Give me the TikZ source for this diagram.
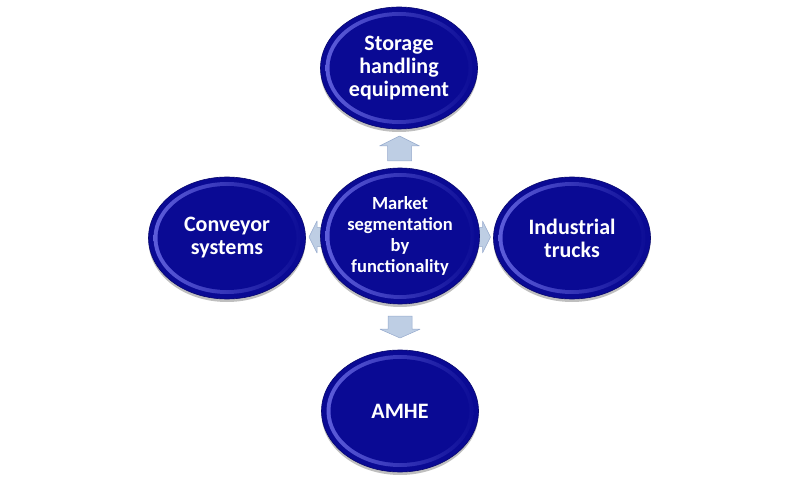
\documentclass[tikz,border=0pt]{standalone}
\usepackage{fontspec}
\setmainfont{Carlito}
\usepackage{tikz}
\usetikzlibrary{calc,shapes.geometric,shadows,backgrounds}
\definecolor{ellblue}{RGB}{10,10,148}
\definecolor{ringblue}{RGB}{95,95,220}
\definecolor{rimblue}{RGB}{8,8,110}
\definecolor{arrowfill}{RGB}{190,206,228}
\definecolor{arrowline}{RGB}{150,170,205}
\def\bevel{%
  \fill[left color=ringblue, right color=ellblue] let \p1=($(path picture bounding box.north east)-(path picture bounding box.center)$) in (path picture bounding box.center) ellipse [x radius=\x1-5pt, y radius=\y1-5pt];
  \fill[ellblue] let \p1=($(path picture bounding box.north east)-(path picture bounding box.center)$) in (path picture bounding box.center) ellipse [x radius=\x1-9pt, y radius=\y1-9pt];}
\def\blockarrow(#1)(#2:#3:#4){\filldraw[arrowbox, shift={(#1)}, rotate=#2] ({-#3/2},{-0.3*#4}) -- ({0.1*#3},{-0.3*#4}) -- ({0.1*#3},{-#4/2}) -- ({#3/2},0) -- ({0.1*#3},{#4/2}) -- ({0.1*#3},{0.3*#4}) -- ({-#3/2},{0.3*#4}) -- cycle;}
\tikzset{
  ell/.style={ellipse, draw=rimblue, line width=0.6pt, fill=ellblue, text=white, align=center, inner sep=0pt,
    font=\fontsize{22}{23}\selectfont\bfseries, minimum width=157pt, minimum height=122pt,
    drop shadow={shadow xshift=0pt, shadow yshift=-3pt, fill=black, opacity=.25}, path picture={\bevel}},
  hubell/.style={ell, font=\fontsize{18.5}{21}\selectfont\bfseries, minimum width=159pt, minimum height=136pt},
  arrowbox/.style={fill=arrowfill, draw=arrowline, line width=0.5pt, line join=round},
}
\begin{document}
\begin{tikzpicture}[x=1pt, y=-1pt]
  %%%%% START %%%%%
  \useasboundingbox (0,0) rectangle (800,486);

  \node[hubell] (hub) at (400,236) {Market\\segmentation\\by\\functionality};
  \node[ell] (top) at (399,68) {Storage\\handling\\equipment};
  \node[ell] (conv) at (227,238) {Conveyor\\systems};
  \node[ell] (ind) at (572,238) {Industrial\\trucks};
  \node[ell] (amhe) at (400,411) {AMHE};

  \begin{scope}[on background layer]
    \blockarrow({$(top.south)!0.5!(hub.north)$})(90:25:40)
    \blockarrow({$(hub.south)!0.5!(amhe.north)$})(-90:22:40)
    \blockarrow({$(conv.east)!0.5!(hub.west)+(6,0)$})(180:20:32)
    \blockarrow({$(hub.east)!0.5!(ind.west)+(-6,0)$})(0:20:32)
  \end{scope}
  %%%%% END %%%%%
\end{tikzpicture}
\end{document}
